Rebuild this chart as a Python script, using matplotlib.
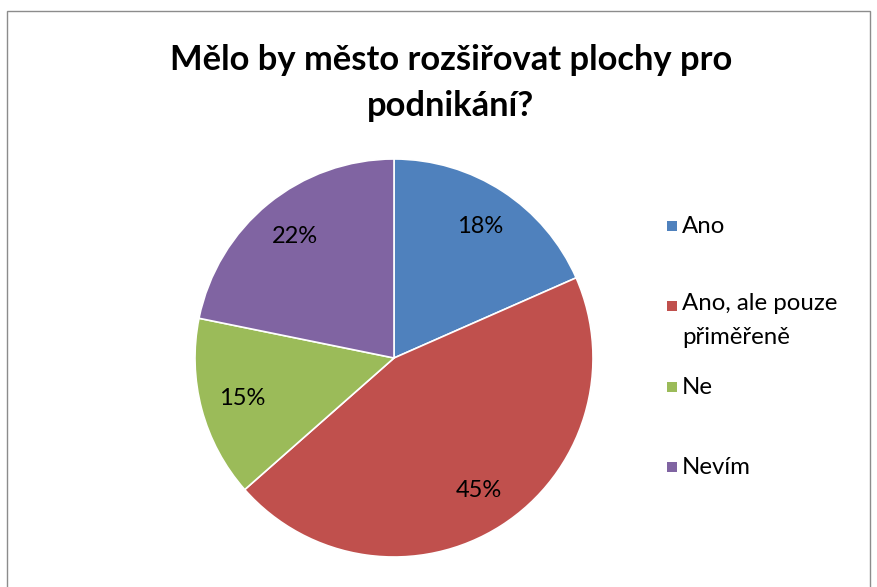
import matplotlib.pyplot as plt
from matplotlib.patches import Rectangle

# data
labels = ['Ano', 'Ano, ale pouze\npřiměřeně', 'Ne', 'Nevím']
values = [18.4, 45.1, 14.7, 21.8]
colors = ['#4F81BD', '#C0504D', '#9BBB59', '#8064A2']
title = 'Mělo by město rozšiřovat plochy pro\npodnikání?'

plt.rcParams['font.family'] = ['Lato', 'DejaVu Sans']

W, H = 878, 587
fig = plt.figure(figsize=(W / 100, H / 100), dpi=100)

# chart frame
fig.add_artist(Rectangle((7 / W, -0.01), (W - 8) / W - 7 / W, 1 - 11 / H + 0.01,
                         transform=fig.transFigure, fill=False,
                         edgecolor='#8c8c8c', lw=1))

fig.text(451 / W, 1 - 83 / H, title, ha='center', va='center',
         fontsize=24.8, fontweight='bold', linespacing=1.5)

# pie: centre (394,358), radius 199 px
cx, cy, r = 394, 358, 199
ax = fig.add_axes([(cx - r) / W, (H - cy - r) / H, 2 * r / W, 2 * r / H])
wedges, texts, autotexts = ax.pie(values, colors=colors, startangle=90, counterclock=False,
                                  autopct='%.0f%%', pctdistance=0.79,
                                  wedgeprops=dict(edgecolor='white', linewidth=1.2),
                                  textprops=dict(fontsize=17, color='black'))
ax.set_aspect('auto')
ax.set_xlim(-1, 1)
ax.set_ylim(-1, 1)
ax.axis('off')

# legend
leg_y = [226, 306, 387, 467]
for lab, col, y in zip(labels, colors, leg_y):
    fig.add_artist(Rectangle((667 / W, 1 - (y + 5) / H), 10 / W, 10 / H,
                             transform=fig.transFigure, facecolor=col, edgecolor='none'))
    t = fig.text(682 / W, 1 - y / H, lab, ha='left', va='center',
                 fontsize=17.3, linespacing=1.75)
    if '\n' in lab:
        t.set_va('top')
        t.set_y(1 - (y - 13) / H)

fig.savefig('out.png', dpi=100)
